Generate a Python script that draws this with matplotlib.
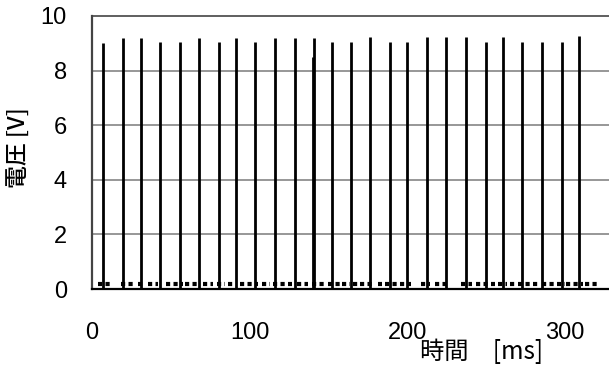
import numpy as np
import matplotlib
matplotlib.use("Agg")
from matplotlib import pyplot as plt

plt.rcParams['font.family'] = ['Liberation Sans', 'Noto Sans CJK JP', 'DejaVu Sans']

# pulse train: time of each spike [ms] and its peak [V]
spike_t = [7.2, 19.8, 30.9, 43.1, 55.8, 68.0, 80.5, 91.1, 103.4, 116.1,
           128.7, 140.2, 141.0, 152.0, 164.3, 176.5, 189.0, 200.0, 212.4,
           224.9, 237.3, 249.8, 260.6, 273.1, 285.8, 298.2, 309.0]
spike_v = [9.0, 9.18, 9.18, 9.04, 9.04, 9.2, 9.04, 9.2, 9.04, 9.2,
           9.2, 8.5, 9.2, 9.05, 9.05, 9.22, 9.05, 9.06, 9.22, 9.22,
           9.22, 9.06, 9.22, 9.06, 9.06, 9.06, 9.26]

# stretches of low-level noise on the baseline [ms]
noise_start = [3.8, 18.4, 29.2, 35.5, 46.9, 58.9, 70.3, 79.0, 86.4, 93.9,
               107.6, 115.0, 129.8, 139.3, 149.9, 158.3, 165.7, 170.0, 181.5,
               185.8, 195.3, 209.0, 217.5, 234.4, 243.9, 257.6, 265.0, 270.3,
               285.2, 301.0, 312.6]
noise_end = [13.3, 27.3, 32.3, 41.9, 57.7, 68.4, 76.7, 84.6, 89.6, 105.5,
             112.9, 126.7, 137.1, 147.8, 158.4, 163.6, 168.9, 178.4, 183.7,
             194.2, 202.7, 214.3, 227.0, 240.8, 255.5, 263.0, 268.2, 284.0,
             300.0, 311.5, 321.0]
noise_v = 0.17

fig = plt.figure(figsize=(6.09, 3.70), dpi=100)
ax = fig.add_axes([92/609, 1 - 289/370, 1 - 92/609, 273/370])

ax.set_xlim(0, 328)
ax.set_ylim(0, 10)

for y in [2, 4, 6, 8]:
    ax.axhline(y, color='#7a7a7a', lw=1.1, zorder=1)

ax.hlines([noise_v] * len(noise_start), noise_start, noise_end,
          colors='black', lw=3.0, linestyles=(0, (1, 0.8)), zorder=2)
ax.vlines(spike_t, 0, spike_v, colors='black', lw=2.0, zorder=3)
ax.plot([0, 328], [0, 0], color='black', lw=1.6, zorder=3, clip_on=False)

ax.spines['right'].set_visible(False)
ax.spines['bottom'].set_visible(False)
for side in ['top', 'left']:
    ax.spines[side].set_linestyle((0, (1, 1)))
    ax.spines[side].set_color('#444444')
ax.spines['top'].set_linewidth(1.2)
ax.spines['left'].set_linewidth(1.6)

ax.set_xticks([0, 100, 200, 300])
ax.set_yticks([0, 2, 4, 6, 8, 10])
ax.tick_params(axis='both', length=0, labelsize=17)
ax.tick_params(axis='x', pad=24)
ax.tick_params(axis='y', pad=18)

cjk = ['Noto Sans CJK JP', 'DejaVu Sans']
fig.text(19/609, 1 - 148/370, '電圧 [V]', rotation=90, ha='center', va='center',
         fontsize=16.5, family=cjk, weight='medium')
fig.text(482/609, 1 - 352/370, '時間\u3000[ms]', ha='center', va='center',
         fontsize=17.5, family=cjk)

fig.savefig('out.png', dpi=100)
